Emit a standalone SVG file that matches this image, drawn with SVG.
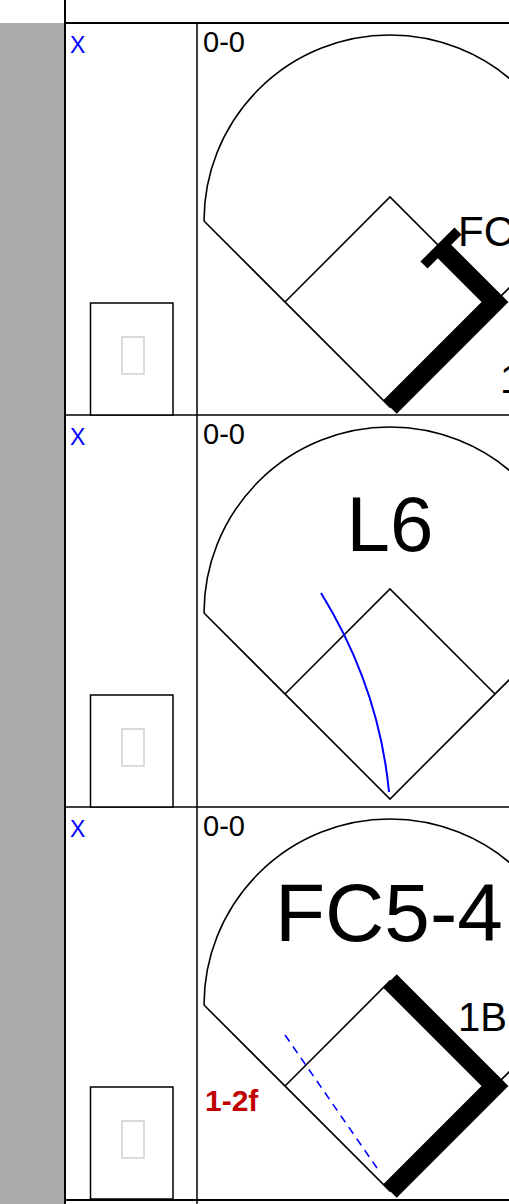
<svg xmlns="http://www.w3.org/2000/svg" width="509" height="1204" viewBox="0 0 509 1204">
<style>
.grid{stroke:#000;stroke-width:1.5;fill:none}
.field{stroke:#000;stroke-width:1.6;fill:none}
.run{stroke:#000;stroke-width:19;fill:none;stroke-linejoin:miter;stroke-linecap:butt}
.bar{stroke:#000;stroke-width:10;fill:none}
.box{stroke:#000;stroke-width:1.5;fill:#fff}
.inner{stroke:#d0d0d0;stroke-width:1.5;fill:none}
.x{font-family:"Liberation Sans",Arial,sans-serif;font-size:23px;fill:#0000ff}
.cnt{font-family:"Liberation Sans",Arial,sans-serif;font-size:29px;fill:#000}
.big{font-family:"Liberation Sans",Arial,sans-serif;fill:#000}
.red{font-family:"Liberation Sans",Arial,sans-serif;font-size:30px;font-weight:bold;fill:#c00000}
.hit{stroke:#0000ff;stroke-width:2;fill:none}
.hitd{stroke:#0000ff;stroke-width:1.6;fill:none;stroke-dasharray:8,6}
</style>
<defs>
<g id="fieldShape">
<path class="field" d="M204,221 A186,186 0 0 1 576,221 M204,221 L390,407 L576,221 M285,302 L390,197 L495,302"/>
</g>
<g id="cardBox">
<rect class="box" x="90.5" y="303" width="82.5" height="112"/>
<rect class="inner" x="122" y="337" width="22" height="37"/>
</g>
</defs>
<rect x="0" y="23" width="65" height="1181" fill="#aaaaaa"/>
<g id="grid">
<line class="grid" x1="65" y1="0" x2="65" y2="1204" style="stroke-width:2"/>
<line class="grid" x1="65" y1="23" x2="509" y2="23" style="stroke-width:2"/>
<line class="grid" x1="197" y1="23" x2="197" y2="1204"/>
<line class="grid" x1="65" y1="415" x2="509" y2="415"/>
<line class="grid" x1="65" y1="807" x2="509" y2="807"/>
<line class="grid" x1="65" y1="1200" x2="509" y2="1200" style="stroke-width:2"/>
</g>
<g id="row1">
<text class="x" x="70" y="53">X</text>
<text class="cnt" x="203" y="52">0-0</text>
<use href="#fieldShape"/>
<use href="#cardBox"/>
<path class="run" d="M390,407 L495,302 L441,248"/>
<line class="bar" x1="424" y1="265" x2="458" y2="231"/>
<text class="big" x="458" y="246" font-size="42">FC</text>
<text class="big" x="500" y="393" font-size="40">1B</text>
</g>
<g id="row2">
<text class="x" x="70" y="445">X</text>
<text class="cnt" x="203" y="444">0-0</text>
<use href="#fieldShape" transform="translate(0,392)"/>
<use href="#cardBox" transform="translate(0,392)"/>
<text class="big" x="390" y="551" font-size="78" text-anchor="middle">L6</text>
<path class="hit" d="M321,593 Q379,687 389,792"/>
</g>
<g id="row3">
<text class="x" x="70" y="837">X</text>
<text class="cnt" x="203" y="836">0-0</text>
<use href="#fieldShape" transform="translate(0,784)"/>
<use href="#cardBox" transform="translate(0,784)"/>
<path class="run" d="M390,1191 L495,1086 L390,981"/>
<text class="big" x="275" y="941" font-size="82">FC5-4</text>
<text class="big" x="458" y="1031" font-size="40">1B</text>
<path class="hitd" d="M285,1035 L377,1168"/>
<text class="red" x="205" y="1111">1-2f</text>
</g>
</svg>
